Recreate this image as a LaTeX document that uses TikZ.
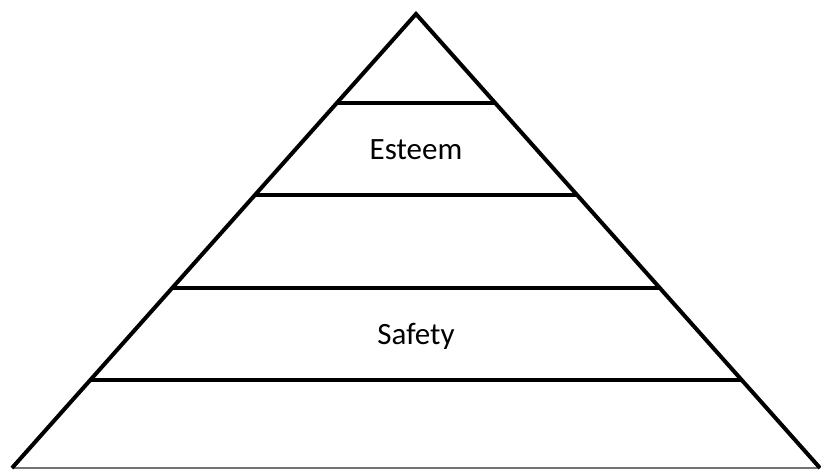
\documentclass[tikz,border=0pt]{standalone}
\usepackage{fontspec}
\setmainfont{Carlito}
\usetikzlibrary{calc}
\begin{document}
\begin{tikzpicture}[x=1pt,y=-1pt,
  edge/.style={line width=4pt,black,line join=miter},
  tier/.style={line width=4pt,black},
  baseline/.style={line width=1.2pt,black!55},
  label/.style={font=\fontsize{31}{37}\selectfont,inner sep=0pt}]
\useasboundingbox (0,0) rectangle (821,470);
\coordinate (A) at (416,14);
\coordinate (BL) at (12,468);
\coordinate (BR) at (820,468);
\draw[baseline] (BL) -- (BR);
\draw[edge] (BL) -- (A) -- (BR);
\foreach \t/\n in {0.196/1,0.399/2,0.6035/3,0.806/4}{
  \coordinate (L\n) at ($(A)!\t!(BL)$);
  \coordinate (R\n) at ($(A)!\t!(BR)$);
  \draw[tier] (L\n) -- (R\n);
}
\node[label] (esteem) at (416,150) {Esteem};
\node[label] (safety) at (416,336) {Safety};
\end{tikzpicture}
\end{document}
